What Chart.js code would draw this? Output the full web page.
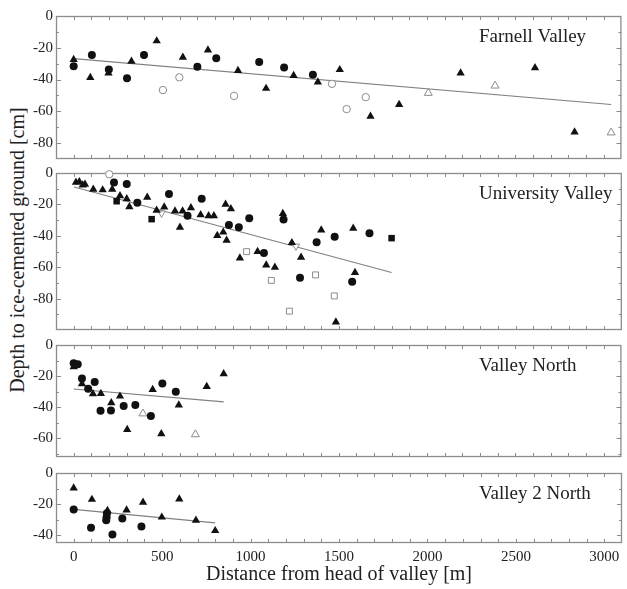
<!DOCTYPE html>
<html><head><meta charset="utf-8">
<script src="https://cdn.jsdelivr.net/npm/chart.js@4.4.1/dist/chart.umd.min.js"></script>
<style>
html,body{margin:0;padding:0;background:#fff;}
#wrap{position:relative;width:627px;height:589px;overflow:hidden;background:#fff;}
#wrap canvas{position:absolute;left:0;}
#ylab{position:absolute;width:400px;left:-183px;top:238px;height:24px;line-height:24px;text-align:center;
  transform:rotate(-90deg);transform-origin:50% 50%;font-family:"Liberation Serif",serif;font-size:20px;color:#222;white-space:nowrap;}
</style>
</head><body>
<div id="wrap"><div id="ylab">Depth to ice-cemented ground [cm]</div></div>
<script>
// ---------- DATA ----------
const xTickLabels = [0, 500, 1000, 1500, 2000, 2500, 3000];
const xAxisTitle = 'Distance from head of valley [m]';

// Farnell Valley
const farnellFilledCircles = [[0,-31.7],[103,-24.5],[199,-33.6],[302,-39.2],[398,-24.5],[700,-32],[807,-26.6],[1050,-29],[1191,-32.4],[1354,-36.9]];
const farnellFilledTriangles = [[0,-27.4],[94,-38.8],[197,-35.9],[327,-28.5],[470,-15.7],[618,-26],[760,-21.4],[930,-34.4],[1089,-45.6],[1245,-37.5],[1382,-41.6],[1506,-33.8],[1680,-63.1],[1842,-55.7],[2190,-35.9],[2611,-32.6],[2835,-73]];
const farnellOpenCircles = [[505,-46.6],[598,-38.6],[908,-50.3],[1462,-42.7],[1545,-58.6],[1653,-51.1]];
const farnellOpenTriangles = [[2007,-48.5],[2385,-43.9],[3042,-73.4]];
const farnellFit = [[0,-26.8],[3042,-55.7]];
const farnellTicks = [0,-20,-40,-60,-80];

// University Valley
const univFilledTriangles = [[13,-6],[32,-5.6],[51,-7.7],[64,-7.2],[111,-10.4],[164,-10.8],[218,-10.4],[262,-14.5],[300,-16.4],[315,-21.5],[416,-15.5],[469,-23.8],[512,-21.7],[573,-24.2],[616,-24.2],[601,-34.6],[663,-22.2],[718,-26.7],[763,-27.3],[793,-27.3],[859,-20],[889,-22.8],[812,-39.8],[846,-37.7],[865,-42.9],[940,-54.2],[1040,-50],[1089,-58.7],[1138,-60.1],[1183,-25.9],[1234,-44.4],[1286,-53.7],[1400,-36.3],[1483,-94.9],[1581,-35.2],[1591,-63.4]];
const univFilledCircles = [[228,-6],[300,-7],[360,-19],[539,-13.3],[644,-27.3],[724,-16.4],[878,-33.1],[934,-34.6],[993,-28.8],[1076,-51],[1187,-29.6],[1280,-66.7],[1374,-44.1],[1476,-40.6],[1575,-69.2],[1673,-38.3]];
const univFilledSquares = [[243,-18],[441,-29.4],[1798,-41.5]];
const univOpenSquares = [[978,-50.1],[1118,-68.4],[1220,-88],[1368,-64.9],[1474,-78.3]];
const univOpenCircles = [[201,-0.8]];
const univOpenDownTriangles = [[497,-25.6],[1257,-46.6]];
const univFit = [[2,-8.9],[1798,-63.4]];
const univTicks = [0,-20,-40,-60,-80];

// Valley North
const vnFilledCircles = [[0,-11.7],[23,-12.3],[47,-21.6],[82,-28.1],[119,-23.8],[152,-42.3],[211,-42.1],[283,-39.2],[349,-38.6],[437,-45.6],[502,-24.8],[578,-30]];
const vnFilledTriangles = [[0,-14],[47,-25],[109,-31.4],[154,-31.2],[213,-37.2],[262,-32.9],[303,-54.4],[447,-28.7],[496,-57.1],[595,-38.6],[753,-26.7],[849,-18.5]];
const vnOpenTriangles = [[392,-44.1],[689,-57.5]];
const vnFit = [[0,-28.3],[849,-36.6]];
const vnTicks = [0,-20,-40,-60];

// Valley 2 North
const v2nFilledTriangles = [[0,-9.7],[103,-17],[191,-24.2],[299,-23.8],[392,-18.8],[498,-28.4],[597,-16.8],[691,-30.4],[800,-37.1]];
const v2nFilledCircles = [[0,-23.4],[98,-35.2],[188,-25.9],[186,-28.4],[184,-30.4],[219,-39.5],[275,-29.2],[383,-34.4]];
const v2nFit = [[0,-23.4],[800,-32.1]];
const v2nTicks = [0,-20,-40];

// ---------- STYLES ----------
const FONT = '"Liberation Serif", "Times New Roman", serif';
const GREY = '#8c8c8c';
const STY = {
  filledCircle:  {pointStyle:'circle',   pointRadius:4,   backgroundColor:'#111', borderColor:'#111', borderWidth:0},
  filledTri:     {pointStyle:'triangle', pointRadius:4.8, backgroundColor:'#111', borderColor:'#111', borderWidth:0},
  filledSquare:  {pointStyle:'rect',     pointRadius:4.6, backgroundColor:'#111', borderColor:'#111', borderWidth:0},
  openCircle:    {pointStyle:'circle',   pointRadius:3.7, backgroundColor:'#fff', borderColor:GREY, borderWidth:1},
  openTri:       {pointStyle:'triangle', pointRadius:4.6, backgroundColor:'#fff', borderColor:GREY, borderWidth:1},
  openSquare:    {pointStyle:'rect',     pointRadius:4.2, backgroundColor:'#fff', borderColor:GREY, borderWidth:1},
  openDownTri:   {pointStyle:'triangle', pointRadius:4.2, rotation:180, backgroundColor:'#fff', borderColor:GREY, borderWidth:1}
};
const toPts = a => a.map(([x,y]) => ({x, y}));
function scatterDs(arr, sty){
  const s = STY[sty];
  return {data: toPts(arr), showLine:false, pointStyle:s.pointStyle, pointRadius:s.pointRadius, pointHoverRadius:s.pointRadius,
    pointRotation:s.rotation||0, pointBackgroundColor:s.backgroundColor, pointBorderColor:s.borderColor,
    pointBorderWidth:s.borderWidth, clip:false, order:1};
}
function fitDs(arr){
  return {data: toPts(arr), showLine:true, pointRadius:0, borderColor:'#808080', borderWidth:1.2, clip:false, order:10};
}

const panels = [
  {top:14, bottom:161, yMin:-90, ticks:farnellTicks, label:'Farnell Valley',
   ds:[scatterDs(farnellFilledCircles,'filledCircle'), scatterDs(farnellFilledTriangles,'filledTri'),
       scatterDs(farnellOpenCircles,'openCircle'), scatterDs(farnellOpenTriangles,'openTri'), fitDs(farnellFit)]},
  {top:171, bottom:332, yMin:-100, ticks:univTicks, label:'University Valley',
   ds:[scatterDs(univFilledCircles,'filledCircle'), scatterDs(univFilledTriangles,'filledTri'), scatterDs(univFilledSquares,'filledSquare'),
       scatterDs(univOpenSquares,'openSquare'), scatterDs(univOpenCircles,'openCircle'), scatterDs(univOpenDownTriangles,'openDownTri'), fitDs(univFit)]},
  {top:343, bottom:459, yMin:-72, ticks:vnTicks, label:'Valley North',
   ds:[scatterDs(vnFilledCircles,'filledCircle'), scatterDs(vnFilledTriangles,'filledTri'), scatterDs(vnOpenTriangles,'openTri'), fitDs(vnFit)]},
  {top:471, bottom:543, yMin:-45, ticks:v2nTicks, label:'Valley 2 North', bottomAxis:true,
   ds:[scatterDs(v2nFilledCircles,'filledCircle'), scatterDs(v2nFilledTriangles,'filledTri'), fitDs(v2nFit)]}
];

const frameTicks = {
  id:'frameTicks',
  beforeDatasetsDraw(chart){
    const {ctx, chartArea:a, scales:{x, y}} = chart;
    ctx.save();
    ctx.strokeStyle = GREY; ctx.lineWidth = 1;
    ctx.beginPath();
    for (let v = -100; v <= 3100; v += 100){
      const px = Math.round(x.getPixelForValue(v)) + 0.5;
      if (px <= a.left + 1 || px >= a.right - 1) continue;
      ctx.moveTo(px, a.top); ctx.lineTo(px, a.top + 4);
      ctx.moveTo(px, a.bottom); ctx.lineTo(px, a.bottom - 4);
    }
    for (let v = 0; v >= y.min; v -= 10){
      const py = Math.round(y.getPixelForValue(v)) + 0.5;
      if (py <= a.top + 1 || py >= a.bottom - 1) continue;
      const L = (v % 20 === 0) ? 5 : 3;
      ctx.moveTo(a.left, py); ctx.lineTo(a.left + L, py);
      ctx.moveTo(a.right, py); ctx.lineTo(a.right - L, py);
    }
    ctx.stroke();
    ctx.lineWidth = 1.3;
    ctx.strokeRect(a.left + 0.5, a.top + 0.5, a.right - a.left - 1, a.bottom - a.top - 1);
    const lbl = chart.options.plugins.frameTicks.label;
    ctx.fillStyle = '#222';
    ctx.font = '19px ' + FONT;
    ctx.textAlign = 'left'; ctx.textBaseline = 'middle';
    ctx.fillText(lbl, 479, a.top + 21);
    ctx.restore();
  }
};

const wrap = document.getElementById('wrap');
panels.forEach(p => {
  const cv = document.createElement('canvas');
  const ctop = p.top - 10;
  const h = p.bottomAxis ? (589 - ctop) : (p.bottom - p.top + 20);
  cv.width = 627; cv.height = h;
  cv.style.top = ctop + 'px'; cv.style.width = '627px'; cv.style.height = h + 'px';
  wrap.appendChild(cv);
  new Chart(cv, {
    type:'scatter',
    data:{datasets:p.ds},
    options:{
      responsive:false, animation:false, devicePixelRatio:1,
      layout:{padding:{top:10, bottom: p.bottomAxis ? 0 : 10, left:0, right:5}},
      plugins:{legend:{display:false}, tooltip:{enabled:false}, frameTicks:{label:p.label}},
      scales:{
        x:{type:'linear', min:-100, max:3100, display: !!p.bottomAxis,
           grid:{display:false, drawTicks:false}, border:{display:false},
           afterBuildTicks: s => { s.ticks = xTickLabels.map(v => ({value:v})); },
           afterFit: s => { if (p.bottomAxis) s.height = 589 - 10 - 461 - (p.bottom - p.top); },
           ticks:{color:'#222', font:{family:FONT, size:15}, padding:5, maxRotation:0, autoSkip:false,
                  callback: v => String(v)},
           title:{display:true, text:xAxisTitle, color:'#222', font:{family:FONT, size:20}, padding:{top:0, bottom:2}}},
        y:{type:'linear', min:p.yMin, max:0,
           grid:{display:false, drawTicks:false}, border:{display:false},
           afterBuildTicks: s => { s.ticks = p.ticks.map(v => ({value:v})); },
           afterFit: s => { s.width = 56; },
           ticks:{color:'#222', font:{family:FONT, size:15}, padding:3, autoSkip:false, callback: v => String(v)}}
      }
    },
    plugins:[frameTicks]
  });
});
</script>
</body></html>
